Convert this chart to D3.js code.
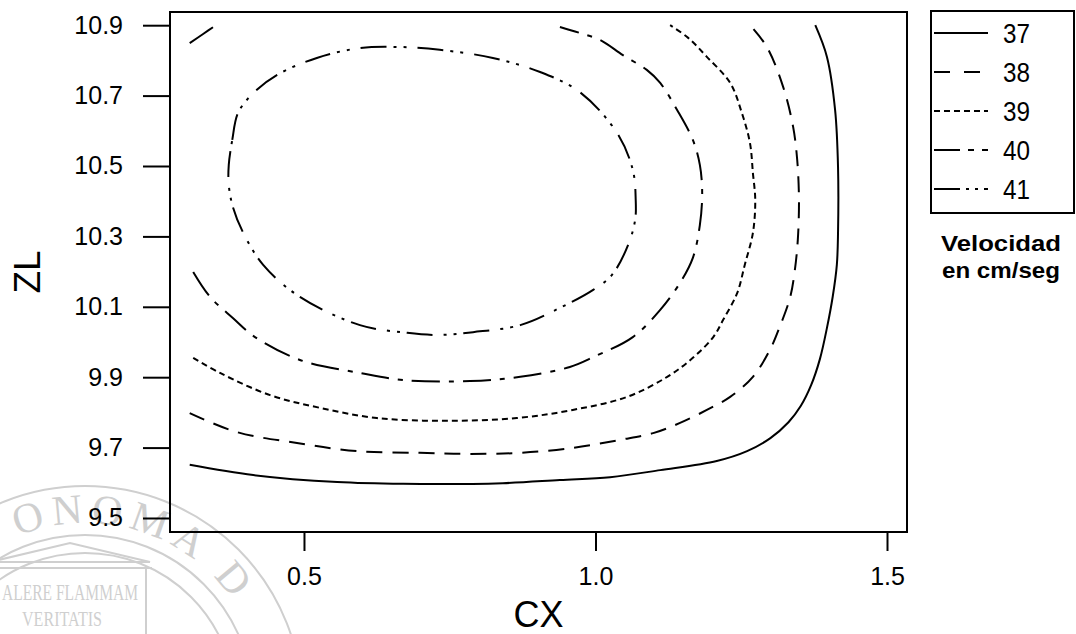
<!DOCTYPE html>
<html><head><meta charset="utf-8">
<script src="https://cdn.jsdelivr.net/npm/d3@7"></script>
<style>body{margin:0;background:#fff} svg{display:block}</style>
</head><body><svg id="c" width="1076" height="634"></svg>
<script>
// ---- data ----
const xDomain = [0.2702, 1.5343];
const yDomain = [9.4602, 10.9375];
const xTicks = [0.5, 1.0, 1.5];
const xTickLabels = ["0.5", "1.0", "1.5"];
const yTicks = [9.5, 9.7, 9.9, 10.1, 10.3, 10.5, 10.7, 10.9];
const yTickLabels = ["9.5", "9.7", "9.9", "10.1", "10.3", "10.5", "10.7", "10.9"];
const levels = [37, 38, 39, 40, 41];
const xLabel = "CX";
const yLabel = "ZL";
const legendTitle = ["Velocidad", "en cm/seg"];

const c37 = [[0.304,9.651],[0.413,9.622],[0.557,9.602],[0.670,9.597],[0.841,9.599],[0.939,9.608],[1.025,9.616],[1.111,9.636],[1.208,9.662],[1.260,9.690],[1.300,9.727],[1.331,9.772],[1.352,9.818],[1.370,9.878],[1.385,9.952],[1.397,10.040],[1.407,10.130],[1.414,10.220],[1.416,10.310],[1.416,10.497],[1.411,10.659],[1.397,10.810],[1.377,10.900]];
const c38 = [[0.304,9.798],[0.385,9.744],[0.488,9.713],[0.591,9.690],[0.699,9.685],[0.785,9.682],[0.871,9.685],[0.961,9.699],[1.042,9.722],[1.099,9.741],[1.145,9.770],[1.191,9.807],[1.231,9.844],[1.270,9.901],[1.299,9.977],[1.316,10.043],[1.334,10.128],[1.342,10.205],[1.347,10.290],[1.349,10.403],[1.346,10.517],[1.339,10.611],[1.322,10.724],[1.294,10.838],[1.265,10.900]];
const c39 = [[0.310,9.955],[0.356,9.912],[0.442,9.849],[0.527,9.813],[0.625,9.784],[0.745,9.776],[0.865,9.784],[0.961,9.807],[1.054,9.844],[1.123,9.901],[1.167,9.955],[1.202,10.014],[1.219,10.063],[1.243,10.139],[1.256,10.219],[1.270,10.310],[1.274,10.403],[1.270,10.480],[1.265,10.565],[1.251,10.651],[1.231,10.736],[1.191,10.810],[1.159,10.864],[1.128,10.900]];
const c40 = [[0.310,10.199],[0.339,10.128],[0.378,10.068],[0.416,10.014],[0.493,9.949],[0.596,9.912],[0.670,9.892],[0.785,9.889],[0.871,9.901],[0.956,9.929],[0.996,9.957],[1.064,10.014],[1.111,10.091],[1.145,10.168],[1.167,10.239],[1.179,10.332],[1.183,10.423],[1.179,10.503],[1.167,10.574],[1.140,10.659],[1.111,10.736],[1.088,10.773],[1.047,10.815],[1.008,10.858],[0.973,10.878],[0.939,10.895]];
const c40corner = [[0.304,10.849],[0.327,10.875],[0.349,10.900]];
const c41 = [[0.371,10.503],[0.377,10.574],[0.387,10.651],[0.413,10.707],[0.454,10.759],[0.522,10.807],[0.596,10.835],[0.665,10.838],[0.733,10.830],[0.824,10.807],[0.905,10.767],[0.973,10.710],[1.037,10.594],[1.064,10.489],[1.069,10.403],[1.068,10.347],[1.056,10.276],[1.028,10.190],[0.996,10.148],[0.939,10.097],[0.871,10.048],[0.790,10.028],[0.733,10.020],[0.677,10.026],[0.596,10.048],[0.493,10.128],[0.430,10.219],[0.395,10.313],[0.378,10.384],[0.371,10.446]];

const contourLines = [
  {level: 37, pts: c37, closed: false},
  {level: 38, pts: c38, closed: false},
  {level: 39, pts: c39, closed: false},
  {level: 40, pts: c40, closed: false},
  {level: 40, pts: c40corner, closed: false},
  {level: 41, pts: c41, closed: true}
];

// ---- styles ----
const dash = {37: null, 38: "16,10", 39: "6,4", 40: "28,9,5,9", 41: "26,7,3,7,3,11"};
const legendDash = {37: null, 38: "16,14", 39: "6,4", 40: "26,8,6,8", 41: "26,6,3,6,3,6"};

const W = 1076, H = 634;
const svg = d3.select("#c");
const M = {l: 170, r: 907, t: 12, b: 532};
const x = d3.scaleLinear().domain(xDomain).range([M.l, M.r]);
const y = d3.scaleLinear().domain(yDomain).range([M.b, M.t]);

// ---- faint background seal (scan watermark) ----
const wmColor = "#cfcfcf";
const wm = svg.append("g").attr("fill", "none").attr("stroke", wmColor).attr("stroke-width", 2);
const sc = {cx: 85, cy: 703};
wm.append("circle").attr("cx", sc.cx).attr("cy", sc.cy).attr("r", 217);
wm.append("circle").attr("cx", sc.cx).attr("cy", sc.cy).attr("r", 168);
wm.append("circle").attr("cx", sc.cx).attr("cy", sc.cy).attr("r", 150);
// seal lettering, one glyph at a time round the ring (only glyphs that fall inside the picture)
const sealText = "AUTONOMA DE NUEVO";
const sealR = 180, sealFont = 42, sealGap = 7;
const sealG = svg.append("g").attr("font-family", "Liberation Serif").attr("font-size", sealFont).attr("fill", wmColor);
const probe = svg.append("text").attr("font-family", "Liberation Serif").attr("font-size", sealFont);
const widths = Array.from(sealText).map(ch => { probe.text(ch === " " ? "\u00a0" : ch); return probe.node().getComputedTextLength(); });
probe.remove();
let ang = -22 * Math.PI / 180 - (widths[0] + widths[1] + widths[2] + 3 * sealGap) / sealR;
Array.from(sealText).forEach((ch, i) => {
  const w = widths[i];
  const mid = ang + (w / 2) / sealR;
  ang += (w + sealGap) / sealR;
  if (ch === " ") return;
  const px = sc.cx + sealR * Math.sin(mid), py = sc.cy - sealR * Math.cos(mid);
  if (px - w / 2 < 2 || py + 24 > H) return;
  sealG.append("text").attr("text-anchor", "middle")
    .attr("transform", `translate(${px},${py}) rotate(${mid * 180 / Math.PI})`).text(ch);
});
wm.append("path").attr("d", "M-10,562 L70,543 L150,562 Z");
wm.append("path").attr("d", "M-10,568 H152 M146,568 V634");
svg.append("text").attr("x", 2).attr("y", 600)
  .attr("font-family", "Liberation Serif").attr("font-size", 24).attr("fill", wmColor)
  .attr("textLength", 136).attr("lengthAdjust", "spacingAndGlyphs").text("ALERE FLAMMAM");
svg.append("text").attr("x", 62).attr("y", 626).attr("text-anchor", "middle")
  .attr("font-family", "Liberation Serif").attr("font-size", 22).attr("fill", wmColor)
  .attr("textLength", 80).attr("lengthAdjust", "spacingAndGlyphs").text("VERITATIS");

// ---- contours ----
const lineOpen = d3.line().x(d => x(d[0])).y(d => y(d[1])).curve(d3.curveCatmullRom.alpha(0.5));
const lineClosed = d3.line().x(d => x(d[0])).y(d => y(d[1])).curve(d3.curveCatmullRomClosed.alpha(0.5));
svg.append("g").selectAll("path").data(contourLines).join("path")
  .attr("d", d => d.closed ? lineClosed(d.pts) : lineOpen(d.pts))
  .attr("fill", "none").attr("stroke", "#000").attr("stroke-width", 2)
  .attr("stroke-dasharray", d => dash[d.level]);

// ---- frame ----
svg.append("rect").attr("x", M.l).attr("y", M.t).attr("width", M.r - M.l).attr("height", M.b - M.t)
  .attr("fill", "none").attr("stroke", "#000").attr("stroke-width", 2);

// ---- axes ----
const yAxis = d3.axisLeft(y).tickValues(yTicks).tickFormat((d, i) => yTickLabels[i]).tickSize(27).tickSizeOuter(0).tickPadding(20);
const gy = svg.append("g").attr("transform", `translate(${M.l},0)`).call(yAxis);
const xAxis = d3.axisBottom(x).tickValues(xTicks).tickFormat((d, i) => xTickLabels[i]).tickSize(19).tickSizeOuter(0).tickPadding(16);
const gx = svg.append("g").attr("transform", `translate(0,${M.b})`).call(xAxis);
[gx, gy].forEach(g => {
  g.select(".domain").remove();
  g.selectAll(".tick line").attr("stroke", "#000").attr("stroke-width", 2);
  g.selectAll(".tick text").attr("fill", "#000").attr("font-family", "Liberation Sans, Arial, sans-serif").attr("font-size", 25);
});

svg.append("text").attr("x", (M.l + M.r) / 2).attr("y", 627).attr("text-anchor", "middle")
  .attr("font-family", "Liberation Sans, Arial, sans-serif").attr("font-size", 36).text(xLabel);
svg.append("text").attr("transform", `translate(40,${(M.t + M.b) / 2}) rotate(-90)`).attr("text-anchor", "middle")
  .attr("font-family", "Liberation Sans, Arial, sans-serif").attr("font-size", 37).text(yLabel);

// ---- legend ----
const lg = svg.append("g");
lg.append("rect").attr("x", 931).attr("y", 11).attr("width", 143).attr("height", 202)
  .attr("fill", "#fff").attr("stroke", "#000").attr("stroke-width", 2);
const ly = d3.scalePoint().domain(levels).range([33, 189]);
const item = lg.selectAll("g.item").data(levels).join("g").attr("class", "item")
  .attr("transform", d => `translate(0,${ly(d)})`);
item.append("line").attr("x1", 934).attr("x2", 988).attr("stroke", "#000").attr("stroke-width", 2)
  .attr("stroke-dasharray", d => legendDash[d]);
item.append("text").attr("x", 1003).attr("dy", "0.36em").attr("font-family", "Liberation Sans, Arial, sans-serif")
  .attr("font-size", 27).attr("textLength", 27).attr("lengthAdjust", "spacingAndGlyphs").text(d => d);
lg.selectAll("text.title").data(legendTitle).join("text").attr("class", "title")
  .attr("x", 1001).attr("y", (d, i) => 251 + i * 27).attr("text-anchor", "middle")
  .attr("font-family", "Liberation Sans, Arial, sans-serif").attr("font-weight", "bold").attr("font-size", 22)
  .attr("textLength", (d, i) => i === 0 ? 120 : 118).attr("lengthAdjust", "spacingAndGlyphs").text(d => d);
</script></body></html>
